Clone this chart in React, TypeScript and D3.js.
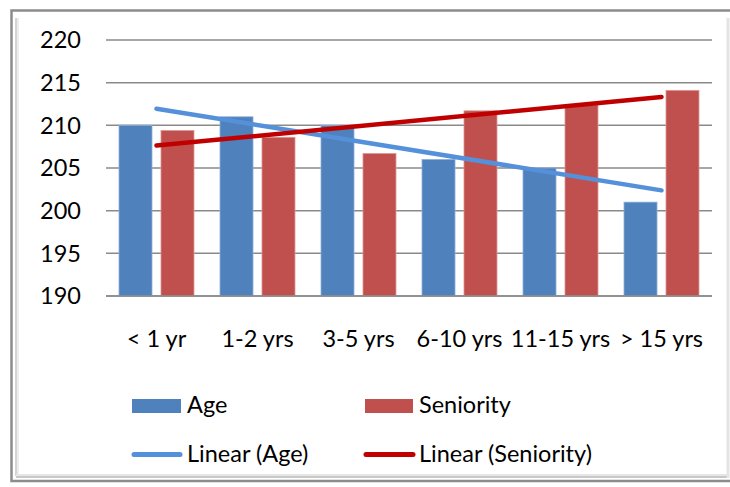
import React from 'react';
import * as d3 from 'd3';

const width = 730;
const height = 487;

const categories = ['< 1 yr', '1-2 yrs', '3-5 yrs', '6-10 yrs', '11-15 yrs', '> 15 yrs'];
const ageValues = [210, 211, 210, 206, 205, 201];
const seniorityValues = [209.4, 208.6, 206.7, 211.7, 212.4, 214.1];
const yTicks = [190, 195, 200, 205, 210, 215, 220];
const seriesNames = ['Age', 'Seniority'];

const barColors = ['#4F81BD', '#C0504D'];
const barEdges = ['#8fb0d8', '#dc9896'];
const trendColors = ['#5591DA', '#C00000'];
const font = 'Lato, "Open Sans", sans-serif';
const fontSize = 23.5;

// least squares fit over category index, same as a spreadsheet trendline
function fit(values: number[]) {
  const xs = values.map((_, i) => i + 1);
  const mx = d3.mean(xs) as number;
  const my = d3.mean(values) as number;
  const sxy = d3.sum(xs, (x, i) => (x - mx) * (values[i] - my));
  const sxx = d3.sum(xs, x => (x - mx) * (x - mx));
  const slope = sxy / sxx;
  return (x: number) => my + slope * (x - mx);
}

const App: React.FC = () => {
  const x0 = d3.scaleBand<string>().domain(categories).range([106, 712]).padding(0);
  const x1 = d3.scaleBand<string>().domain(seriesNames).range([13, 88]).paddingInner(0.214);
  const y = d3.scaleLinear().domain([190, 220]).range([296, 40]);

  const series = [ageValues, seniorityValues];
  const line = d3
    .line<[number, number]>()
    .x(d => d[0])
    .y(d => y(d[1]));

  const trends = series.map(vals => {
    const f = fit(vals);
    const first = categories[0];
    const last = categories[categories.length - 1];
    return line([
      [(x0(first) as number) + x0.bandwidth() / 2, f(1)],
      [(x0(last) as number) + x0.bandwidth() / 2, f(categories.length)],
    ]);
  });

  return (
    <svg
      width={width}
      height={height}
      style={{ position: 'absolute', left: 0, top: 0, background: '#fff' }}
      fontFamily={font}
      fontSize={fontSize}
    >
      {/* frame with a soft inner shadow */}
      <line x1={16} y1={18} x2={16} y2={476} stroke="#d4d4d4" strokeWidth={2} />
      <line x1={18} y1={18} x2={18} y2={476} stroke="#ececec" strokeWidth={2} />
      <line x1={16} y1={477} x2={727} y2={477} stroke="#c8c8c8" strokeWidth={2} />
      <line x1={16} y1={475} x2={727} y2={475} stroke="#e6e6e6" strokeWidth={2} />
      <line x1={728} y1={18} x2={728} y2={478} stroke="#e4e4e4" strokeWidth={3} />
      <rect x={11.5} y={10.5} width={740} height={470.5} fill="none" stroke="#8c8c8c" strokeWidth={2.5} />

      {/* gridlines */}
      {yTicks.map(t => (
        <line key={t} x1={106} x2={712} y1={y(t)} y2={y(t)} stroke="#8a8a8a" strokeWidth={1.5} />
      ))}

      {/* y labels */}
      {yTicks.map(t => (
        <text key={t} x={81} y={y(t)} dy="0.36em" textAnchor="end" fill="#000">
          {t}
        </text>
      ))}

      {/* bars */}
      {categories.map((c, i) =>
        series.map((vals, s) => (
          <rect
            key={c + s}
            x={(x0(c) as number) + (x1(seriesNames[s]) as number)}
            y={y(vals[i])}
            width={x1.bandwidth()}
            height={y(190) - y(vals[i])}
            fill={barColors[s]}
            stroke={barEdges[s]}
            strokeWidth={0.8}
          />
        ))
      )}

      <line x1={106} x2={712} y1={y(190)} y2={y(190)} stroke="#8a8a8a" strokeWidth={1.5} />

      {/* trendlines */}
      {trends.map((d, s) => (
        <path key={s} d={d || ''} fill="none" stroke={trendColors[s]} strokeWidth={4.5} strokeLinecap="round" />
      ))}

      {/* x labels */}
      {categories.map(c => (
        <text key={c} x={(x0(c) as number) + x0.bandwidth() / 2} y={347} textAnchor="middle" fill="#000">
          {c}
        </text>
      ))}

      {/* legend */}
      <g>
        <rect x={132} y={399} width={49} height={14} fill={barColors[0]} />
        <text x={187} y={413}>Age</text>
        <rect x={365} y={399} width={48} height={14} fill={barColors[1]} />
        <text x={419} y={413}>Seniority</text>
        <line x1={134} x2={180} y1={454.5} y2={454.5} stroke={trendColors[0]} strokeWidth={5} strokeLinecap="round" />
        <text x={187} y={462}>Linear (Age)</text>
        <line x1={366} x2={413} y1={454.5} y2={454.5} stroke={trendColors[1]} strokeWidth={5} strokeLinecap="round" />
        <text x={419} y={462}>Linear (Seniority)</text>
      </g>
    </svg>
  );
};

export default App;
